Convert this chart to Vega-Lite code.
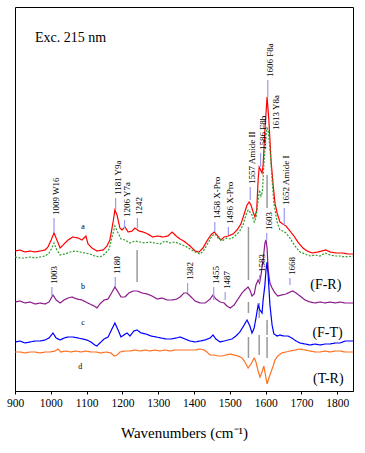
{
  "$schema": "https://vega.github.io/schema/vega-lite/v6.json",
  "width": 338,
  "height": 384,
  "autosize": "none",
  "padding": {"left": 15, "top": 7, "right": 12, "bottom": 62},
  "config": {
    "view": {"stroke": "#000", "strokeWidth": 1},
    "font": "Liberation Serif",
    "axis": {"labelFont": "Liberation Serif", "titleFont": "Liberation Serif"},
    "text": {"font": "Liberation Serif"}
  },
  "datasets": {
    "spec": [
      {"s":"a1","w":900,"i":140},{"s":"a1","w":914,"i":141},{"s":"a1","w":928,"i":139},{"s":"a1","w":942,"i":140},{"s":"a1","w":956,"i":139},{"s":"a1","w":970,"i":140},{"s":"a1","w":984,"i":141},{"s":"a1","w":992,"i":144},{"s":"a1","w":1001,"i":151},{"s":"a1","w":1009,"i":158},{"s":"a1","w":1017,"i":151},{"s":"a1","w":1026,"i":143},{"s":"a1","w":1037,"i":147},{"s":"a1","w":1048,"i":151},{"s":"a1","w":1062,"i":154},{"s":"a1","w":1076,"i":153},{"s":"a1","w":1087,"i":151},{"s":"a1","w":1098,"i":155},{"s":"a1","w":1104,"i":147},{"s":"a1","w":1115,"i":143},{"s":"a1","w":1129,"i":140},{"s":"a1","w":1146,"i":141},{"s":"a1","w":1157,"i":145},{"s":"a1","w":1165,"i":151},{"s":"a1","w":1174,"i":169},{"s":"a1","w":1179,"i":181},{"s":"a1","w":1185,"i":176},{"s":"a1","w":1193,"i":163},{"s":"a1","w":1199,"i":161},{"s":"a1","w":1207,"i":164},{"s":"a1","w":1216,"i":159},{"s":"a1","w":1227,"i":160},{"s":"a1","w":1235,"i":163},{"s":"a1","w":1246,"i":160},{"s":"a1","w":1258,"i":159},{"s":"a1","w":1271,"i":157},{"s":"a1","w":1285,"i":154},{"s":"a1","w":1299,"i":155},{"s":"a1","w":1313,"i":154},{"s":"a1","w":1327,"i":155},{"s":"a1","w":1339,"i":159},{"s":"a1","w":1350,"i":155},{"s":"a1","w":1361,"i":152},{"s":"a1","w":1375,"i":149},{"s":"a1","w":1389,"i":145},{"s":"a1","w":1403,"i":140},{"s":"a1","w":1414,"i":139},{"s":"a1","w":1425,"i":143},{"s":"a1","w":1436,"i":150},{"s":"a1","w":1447,"i":156},{"s":"a1","w":1456,"i":159},{"s":"a1","w":1464,"i":156},{"s":"a1","w":1475,"i":151},{"s":"a1","w":1484,"i":154},{"s":"a1","w":1495,"i":155},{"s":"a1","w":1509,"i":157},{"s":"a1","w":1520,"i":161},{"s":"a1","w":1531,"i":167},{"s":"a1","w":1540,"i":177},{"s":"a1","w":1548,"i":186},{"s":"a1","w":1554,"i":189},{"s":"a1","w":1559,"i":186},{"s":"a1","w":1565,"i":179},{"s":"a1","w":1570,"i":174},{"s":"a1","w":1575,"i":181},{"s":"a1","w":1579,"i":211},{"s":"a1","w":1582,"i":224},{"s":"a1","w":1586,"i":221},{"s":"a1","w":1590,"i":218},{"s":"a1","w":1593,"i":226},{"s":"a1","w":1598,"i":261},{"s":"a1","w":1604,"i":294},{"s":"a1","w":1609,"i":271},{"s":"a1","w":1615,"i":231},{"s":"a1","w":1621,"i":206},{"s":"a1","w":1626,"i":188},{"s":"a1","w":1632,"i":178},{"s":"a1","w":1640,"i":169},{"s":"a1","w":1648,"i":167},{"s":"a1","w":1657,"i":165},{"s":"a1","w":1668,"i":160},{"s":"a1","w":1679,"i":155},{"s":"a1","w":1690,"i":149},{"s":"a1","w":1704,"i":143},{"s":"a1","w":1716,"i":140},{"s":"a1","w":1730,"i":138},{"s":"a1","w":1746,"i":139},{"s":"a1","w":1757,"i":140},{"s":"a1","w":1768,"i":141},{"s":"a1","w":1780,"i":139},{"s":"a1","w":1797,"i":138},{"s":"a1","w":1813,"i":138},{"s":"a1","w":1830,"i":137},{"s":"a1","w":1844,"i":137},
      {"s":"a2","w":900,"i":134},{"s":"a2","w":914,"i":133},{"s":"a2","w":928,"i":133},{"s":"a2","w":942,"i":134},{"s":"a2","w":956,"i":133},{"s":"a2","w":970,"i":134},{"s":"a2","w":984,"i":135},{"s":"a2","w":995,"i":138},{"s":"a2","w":1003,"i":143},{"s":"a2","w":1009,"i":148},{"s":"a2","w":1017,"i":141},{"s":"a2","w":1026,"i":136},{"s":"a2","w":1040,"i":137},{"s":"a2","w":1054,"i":139},{"s":"a2","w":1068,"i":140},{"s":"a2","w":1082,"i":139},{"s":"a2","w":1096,"i":138},{"s":"a2","w":1109,"i":137},{"s":"a2","w":1123,"i":135},{"s":"a2","w":1137,"i":134},{"s":"a2","w":1151,"i":137},{"s":"a2","w":1163,"i":142},{"s":"a2","w":1171,"i":154},{"s":"a2","w":1179,"i":165},{"s":"a2","w":1188,"i":158},{"s":"a2","w":1196,"i":152},{"s":"a2","w":1207,"i":151},{"s":"a2","w":1221,"i":148},{"s":"a2","w":1235,"i":150},{"s":"a2","w":1249,"i":149},{"s":"a2","w":1263,"i":148},{"s":"a2","w":1277,"i":149},{"s":"a2","w":1291,"i":148},{"s":"a2","w":1305,"i":147},{"s":"a2","w":1319,"i":150},{"s":"a2","w":1333,"i":148},{"s":"a2","w":1347,"i":149},{"s":"a2","w":1361,"i":147},{"s":"a2","w":1375,"i":145},{"s":"a2","w":1389,"i":142},{"s":"a2","w":1403,"i":139},{"s":"a2","w":1417,"i":137},{"s":"a2","w":1428,"i":141},{"s":"a2","w":1439,"i":148},{"s":"a2","w":1450,"i":155},{"s":"a2","w":1459,"i":157},{"s":"a2","w":1467,"i":153},{"s":"a2","w":1478,"i":150},{"s":"a2","w":1492,"i":153},{"s":"a2","w":1503,"i":152},{"s":"a2","w":1514,"i":155},{"s":"a2","w":1526,"i":159},{"s":"a2","w":1537,"i":166},{"s":"a2","w":1545,"i":176},{"s":"a2","w":1551,"i":181},{"s":"a2","w":1556,"i":179},{"s":"a2","w":1562,"i":176},{"s":"a2","w":1568,"i":169},{"s":"a2","w":1573,"i":173},{"s":"a2","w":1579,"i":191},{"s":"a2","w":1583,"i":201},{"s":"a2","w":1587,"i":195},{"s":"a2","w":1591,"i":199},{"s":"a2","w":1595,"i":226},{"s":"a2","w":1601,"i":256},{"s":"a2","w":1604,"i":263},{"s":"a2","w":1607,"i":261},{"s":"a2","w":1612,"i":243},{"s":"a2","w":1618,"i":211},{"s":"a2","w":1623,"i":188},{"s":"a2","w":1632,"i":169},{"s":"a2","w":1640,"i":161},{"s":"a2","w":1648,"i":160},{"s":"a2","w":1657,"i":158},{"s":"a2","w":1668,"i":153},{"s":"a2","w":1682,"i":145},{"s":"a2","w":1696,"i":139},{"s":"a2","w":1710,"i":137},{"s":"a2","w":1724,"i":135},{"s":"a2","w":1738,"i":136},{"s":"a2","w":1752,"i":135},{"s":"a2","w":1766,"i":138},{"s":"a2","w":1780,"i":136},{"s":"a2","w":1794,"i":135},{"s":"a2","w":1808,"i":135},{"s":"a2","w":1822,"i":134},{"s":"a2","w":1844,"i":135},
      {"s":"b","w":900,"i":89},{"s":"b","w":914,"i":90},{"s":"b","w":928,"i":88},{"s":"b","w":942,"i":89},{"s":"b","w":956,"i":87},{"s":"b","w":970,"i":88},{"s":"b","w":984,"i":87},{"s":"b","w":995,"i":89},{"s":"b","w":1006,"i":96},{"s":"b","w":1015,"i":91},{"s":"b","w":1026,"i":88},{"s":"b","w":1037,"i":91},{"s":"b","w":1048,"i":93},{"s":"b","w":1059,"i":94},{"s":"b","w":1073,"i":92},{"s":"b","w":1087,"i":91},{"s":"b","w":1098,"i":89},{"s":"b","w":1109,"i":87},{"s":"b","w":1121,"i":85},{"s":"b","w":1129,"i":83},{"s":"b","w":1137,"i":87},{"s":"b","w":1149,"i":91},{"s":"b","w":1160,"i":92},{"s":"b","w":1168,"i":97},{"s":"b","w":1179,"i":104},{"s":"b","w":1188,"i":99},{"s":"b","w":1196,"i":94},{"s":"b","w":1207,"i":94},{"s":"b","w":1218,"i":98},{"s":"b","w":1230,"i":100},{"s":"b","w":1241,"i":100},{"s":"b","w":1255,"i":98},{"s":"b","w":1269,"i":97},{"s":"b","w":1283,"i":95},{"s":"b","w":1297,"i":92},{"s":"b","w":1311,"i":93},{"s":"b","w":1325,"i":91},{"s":"b","w":1339,"i":91},{"s":"b","w":1352,"i":92},{"s":"b","w":1361,"i":94},{"s":"b","w":1372,"i":98},{"s":"b","w":1380,"i":98},{"s":"b","w":1389,"i":95},{"s":"b","w":1403,"i":90},{"s":"b","w":1417,"i":88},{"s":"b","w":1431,"i":88},{"s":"b","w":1445,"i":92},{"s":"b","w":1453,"i":96},{"s":"b","w":1461,"i":92},{"s":"b","w":1473,"i":89},{"s":"b","w":1484,"i":88},{"s":"b","w":1492,"i":85},{"s":"b","w":1501,"i":83},{"s":"b","w":1512,"i":86},{"s":"b","w":1523,"i":92},{"s":"b","w":1534,"i":98},{"s":"b","w":1542,"i":101},{"s":"b","w":1551,"i":104},{"s":"b","w":1556,"i":101},{"s":"b","w":1562,"i":95},{"s":"b","w":1568,"i":97},{"s":"b","w":1573,"i":106},{"s":"b","w":1579,"i":111},{"s":"b","w":1583,"i":108},{"s":"b","w":1587,"i":116},{"s":"b","w":1593,"i":131},{"s":"b","w":1598,"i":148},{"s":"b","w":1601,"i":151},{"s":"b","w":1604,"i":143},{"s":"b","w":1607,"i":121},{"s":"b","w":1612,"i":108},{"s":"b","w":1618,"i":103},{"s":"b","w":1626,"i":98},{"s":"b","w":1634,"i":95},{"s":"b","w":1645,"i":96},{"s":"b","w":1657,"i":97},{"s":"b","w":1668,"i":99},{"s":"b","w":1676,"i":100},{"s":"b","w":1685,"i":98},{"s":"b","w":1696,"i":95},{"s":"b","w":1710,"i":91},{"s":"b","w":1724,"i":89},{"s":"b","w":1738,"i":88},{"s":"b","w":1752,"i":89},{"s":"b","w":1766,"i":88},{"s":"b","w":1780,"i":89},{"s":"b","w":1794,"i":88},{"s":"b","w":1808,"i":89},{"s":"b","w":1822,"i":88},{"s":"b","w":1844,"i":88},
      {"s":"c","w":900,"i":49},{"s":"c","w":914,"i":50},{"s":"c","w":928,"i":48},{"s":"c","w":942,"i":49},{"s":"c","w":956,"i":50},{"s":"c","w":970,"i":50},{"s":"c","w":984,"i":51},{"s":"c","w":995,"i":53},{"s":"c","w":1006,"i":58},{"s":"c","w":1015,"i":53},{"s":"c","w":1026,"i":51},{"s":"c","w":1037,"i":53},{"s":"c","w":1048,"i":54},{"s":"c","w":1062,"i":54},{"s":"c","w":1076,"i":53},{"s":"c","w":1090,"i":52},{"s":"c","w":1101,"i":51},{"s":"c","w":1112,"i":49},{"s":"c","w":1123,"i":46},{"s":"c","w":1129,"i":45},{"s":"c","w":1137,"i":48},{"s":"c","w":1149,"i":52},{"s":"c","w":1160,"i":54},{"s":"c","w":1168,"i":60},{"s":"c","w":1179,"i":68},{"s":"c","w":1188,"i":61},{"s":"c","w":1196,"i":54},{"s":"c","w":1204,"i":56},{"s":"c","w":1213,"i":58},{"s":"c","w":1221,"i":55},{"s":"c","w":1232,"i":60},{"s":"c","w":1241,"i":61},{"s":"c","w":1252,"i":58},{"s":"c","w":1266,"i":57},{"s":"c","w":1280,"i":55},{"s":"c","w":1294,"i":54},{"s":"c","w":1308,"i":53},{"s":"c","w":1322,"i":52},{"s":"c","w":1336,"i":52},{"s":"c","w":1350,"i":53},{"s":"c","w":1361,"i":54},{"s":"c","w":1375,"i":52},{"s":"c","w":1389,"i":50},{"s":"c","w":1403,"i":49},{"s":"c","w":1417,"i":50},{"s":"c","w":1431,"i":51},{"s":"c","w":1445,"i":53},{"s":"c","w":1453,"i":56},{"s":"c","w":1461,"i":52},{"s":"c","w":1473,"i":49},{"s":"c","w":1484,"i":50},{"s":"c","w":1495,"i":51},{"s":"c","w":1506,"i":52},{"s":"c","w":1517,"i":55},{"s":"c","w":1528,"i":59},{"s":"c","w":1540,"i":66},{"s":"c","w":1548,"i":71},{"s":"c","w":1556,"i":65},{"s":"c","w":1562,"i":58},{"s":"c","w":1568,"i":63},{"s":"c","w":1573,"i":73},{"s":"c","w":1579,"i":86},{"s":"c","w":1584,"i":81},{"s":"c","w":1590,"i":78},{"s":"c","w":1593,"i":91},{"s":"c","w":1598,"i":106},{"s":"c","w":1601,"i":121},{"s":"c","w":1604,"i":129},{"s":"c","w":1607,"i":116},{"s":"c","w":1612,"i":86},{"s":"c","w":1618,"i":66},{"s":"c","w":1623,"i":57},{"s":"c","w":1632,"i":55},{"s":"c","w":1640,"i":56},{"s":"c","w":1651,"i":55},{"s":"c","w":1662,"i":55},{"s":"c","w":1673,"i":53},{"s":"c","w":1685,"i":50},{"s":"c","w":1696,"i":48},{"s":"c","w":1710,"i":47},{"s":"c","w":1724,"i":46},{"s":"c","w":1738,"i":47},{"s":"c","w":1752,"i":46},{"s":"c","w":1766,"i":47},{"s":"c","w":1780,"i":47},{"s":"c","w":1794,"i":48},{"s":"c","w":1808,"i":48},{"s":"c","w":1822,"i":50},{"s":"c","w":1844,"i":50},
      {"s":"d","w":900,"i":39},{"s":"d","w":914,"i":39},{"s":"d","w":928,"i":38},{"s":"d","w":942,"i":39},{"s":"d","w":956,"i":39},{"s":"d","w":970,"i":38},{"s":"d","w":984,"i":39},{"s":"d","w":998,"i":39},{"s":"d","w":1012,"i":40},{"s":"d","w":1020,"i":42},{"s":"d","w":1028,"i":39},{"s":"d","w":1042,"i":40},{"s":"d","w":1056,"i":39},{"s":"d","w":1070,"i":40},{"s":"d","w":1084,"i":39},{"s":"d","w":1098,"i":40},{"s":"d","w":1112,"i":39},{"s":"d","w":1126,"i":39},{"s":"d","w":1140,"i":38},{"s":"d","w":1154,"i":39},{"s":"d","w":1168,"i":38},{"s":"d","w":1177,"i":35},{"s":"d","w":1185,"i":36},{"s":"d","w":1193,"i":39},{"s":"d","w":1207,"i":40},{"s":"d","w":1221,"i":40},{"s":"d","w":1235,"i":41},{"s":"d","w":1249,"i":40},{"s":"d","w":1263,"i":41},{"s":"d","w":1277,"i":40},{"s":"d","w":1291,"i":41},{"s":"d","w":1305,"i":40},{"s":"d","w":1319,"i":41},{"s":"d","w":1333,"i":40},{"s":"d","w":1347,"i":41},{"s":"d","w":1361,"i":41},{"s":"d","w":1375,"i":41},{"s":"d","w":1389,"i":41},{"s":"d","w":1403,"i":41},{"s":"d","w":1417,"i":42},{"s":"d","w":1428,"i":41},{"s":"d","w":1436,"i":39},{"s":"d","w":1445,"i":36},{"s":"d","w":1456,"i":36},{"s":"d","w":1467,"i":35},{"s":"d","w":1478,"i":35},{"s":"d","w":1489,"i":36},{"s":"d","w":1501,"i":37},{"s":"d","w":1512,"i":36},{"s":"d","w":1523,"i":35},{"s":"d","w":1534,"i":33},{"s":"d","w":1542,"i":29},{"s":"d","w":1551,"i":23},{"s":"d","w":1559,"i":27},{"s":"d","w":1568,"i":33},{"s":"d","w":1573,"i":29},{"s":"d","w":1579,"i":20},{"s":"d","w":1584,"i":14},{"s":"d","w":1590,"i":19},{"s":"d","w":1595,"i":25},{"s":"d","w":1601,"i":13},{"s":"d","w":1604,"i":7},{"s":"d","w":1609,"i":13},{"s":"d","w":1615,"i":19},{"s":"d","w":1621,"i":25},{"s":"d","w":1626,"i":31},{"s":"d","w":1634,"i":35},{"s":"d","w":1645,"i":38},{"s":"d","w":1657,"i":39},{"s":"d","w":1668,"i":40},{"s":"d","w":1682,"i":41},{"s":"d","w":1696,"i":42},{"s":"d","w":1710,"i":41},{"s":"d","w":1724,"i":40},{"s":"d","w":1738,"i":39},{"s":"d","w":1752,"i":39},{"s":"d","w":1766,"i":40},{"s":"d","w":1780,"i":39},{"s":"d","w":1794,"i":40},{"s":"d","w":1808,"i":40},{"s":"d","w":1822,"i":39},{"s":"d","w":1844,"i":39}
    ],
    "peaks": [
      {"w":1009,"t":"1009  W16","y0":158,"y1":173},
      {"w":1181,"t":"1181  Y9a","y0":181,"y1":193},
      {"w":1206,"t":"1206  Y7a","y0":163,"y1":171},
      {"w":1242,"t":"1242","y0":163,"y1":173},
      {"w":1458,"t":"1458  X-Pro","y0":159,"y1":169},
      {"w":1496,"t":"1496  X-Pro","y0":156,"y1":164},
      {"w":1557,"t":"1557  Amide II","y0":191,"y1":204},
      {"w":1586,"t":"1586  F8b","y0":224,"y1":238},
      {"w":1606,"t":"1606  F8a","y0":294,"y1":311},
      {"w":1652,"t":"1652  Amide I","y0":166,"y1":183},
      {"w":1003,"t":"1003","y0":94,"y1":104},
      {"w":1180,"t":"1180","y0":104,"y1":114},
      {"w":1382,"t":"1382","y0":98,"y1":108},
      {"w":1455,"t":"1455","y0":91,"y1":104},
      {"w":1487,"t":"1487","y0":91,"y1":99},
      {"w":1583,"t":"1583","y0":109,"y1":116},
      {"w":1603,"t":"1603","y0":151,"y1":158},
      {"w":1668,"t":"1668","y0":106,"y1":113}
    ],
    "links": [
      {"w":1241,"y0":109,"y1":141},
      {"w":1552,"y0":111,"y1":164},
      {"w":1552,"y0":78,"y1":89},
      {"w":1552,"y0":33,"y1":54},
      {"w":1582,"y0":73,"y1":88},
      {"w":1582,"y0":36,"y1":56},
      {"w":1604,"y0":183,"y1":216},
      {"w":1604,"y0":56,"y1":71},
      {"w":1604,"y0":33,"y1":54}
    ],
    "notes": [
      {"k":"rot","t":"1613  Y8a","w":1630,"i":261},
      {"k":"small","t":"a","w":1090,"i":164},
      {"k":"small","t":"b","w":1090,"i":104},
      {"k":"small","t":"c","w":1090,"i":68},
      {"k":"small","t":"d","w":1082,"i":24},
      {"k":"big","t":"(F-R)","w":1768,"i":106},
      {"k":"big","t":"(F-T)","w":1773,"i":58},
      {"k":"big","t":"(T-R)","w":1775,"i":12},
      {"k":"title","t":"Exc. 215 nm","w":956,"i":353}
    ]
  },
  "encoding": {
    "x": {"field":"w","type":"quantitative","scale":{"domain":[900,1844],"nice":false,"zero":false},
      "axis":{"values":[900,1000,1100,1200,1300,1400,1500,1600,1700,1800],"format":"d","grid":false,"domainColor":"#000","tickColor":"#000","tickSize":3,"labelFont":"Liberation Serif","labelFontSize":11.5,"labelColor":"#000","labelPadding":3,"labelFlush":false,"title":"Wavenumbers (cm⁻¹)","titleFont":"Liberation Serif","titleFontSize":15,"titleFontWeight":"normal","titleColor":"#000","titlePadding":17}}
  },
  "layer": [
    {
      "data": {"name":"links"},
      "mark": {"type":"rule","color":"#999999","strokeWidth":1.5},
      "encoding": {
        "y": {"field":"y0","type":"quantitative","scale":{"domain":[0,384],"nice":false,"zero":false},"axis":null},
        "y2": {"field":"y1"}
      }
    },
    {
      "data": {"name":"spec"},
      "mark": {"type":"line","strokeWidth":1.2,"interpolate":"linear"},
      "encoding": {
        "y": {"field":"i","type":"quantitative","scale":{"domain":[0,384],"nice":false,"zero":false},"axis":null},
        "color": {"field":"s","type":"nominal","legend":null,"scale":{"domain":["a2","a1","b","c","d"],"range":["#2e9e2e","#ff0000","#8b1a8b","#0000ff","#ff7020"]}},
        "strokeDash": {"field":"s","type":"nominal","legend":null,"scale":{"domain":["a2","a1","b","c","d"],"range":[[2,1.5],[1,0],[1,0],[1,0],[1,0]]}},
        "order": {"field":"w","type":"quantitative"}
      }
    },
    {
      "data": {"name":"peaks"},
      "mark": {"type":"rule","color":"#9a9af0","strokeWidth":1.2},
      "encoding": {
        "y": {"field":"y0","type":"quantitative","scale":{"domain":[0,384],"nice":false,"zero":false},"axis":null},
        "y2": {"field":"y1"}
      }
    },
    {
      "data": {"name":"peaks"},
      "mark": {"type":"text","angle":270,"align":"left","baseline":"middle","dx":3,"dy":2,"font":"Liberation Serif","fontSize":9,"color":"#000"},
      "encoding": {
        "y": {"field":"y1","type":"quantitative","scale":{"domain":[0,384],"nice":false,"zero":false},"axis":null},
        "text": {"field":"t"}
      }
    },
    {
      "data": {"name":"notes"},
      "transform": [{"filter":"datum.k == 'rot'"}],
      "mark": {"type":"text","angle":270,"align":"left","baseline":"middle","font":"Liberation Serif","fontSize":9,"color":"#000"},
      "encoding": {
        "y": {"field":"i","type":"quantitative","scale":{"domain":[0,384],"nice":false,"zero":false},"axis":null},
        "text": {"field":"t"}
      }
    },
    {
      "data": {"name":"notes"},
      "transform": [{"filter":"datum.k == 'small'"}],
      "mark": {"type":"text","align":"center","baseline":"middle","font":"Liberation Serif","fontSize":8,"color":"#000"},
      "encoding": {
        "y": {"field":"i","type":"quantitative","scale":{"domain":[0,384],"nice":false,"zero":false},"axis":null},
        "text": {"field":"t"}
      }
    },
    {
      "data": {"name":"notes"},
      "transform": [{"filter":"datum.k == 'big'"}],
      "mark": {"type":"text","align":"center","baseline":"middle","font":"Liberation Serif","fontSize":14,"color":"#000"},
      "encoding": {
        "y": {"field":"i","type":"quantitative","scale":{"domain":[0,384],"nice":false,"zero":false},"axis":null},
        "text": {"field":"t"}
      }
    },
    {
      "data": {"name":"notes"},
      "transform": [{"filter":"datum.k == 'title'"}],
      "mark": {"type":"text","align":"left","baseline":"middle","font":"Liberation Serif","fontSize":14,"color":"#000"},
      "encoding": {
        "y": {"field":"i","type":"quantitative","scale":{"domain":[0,384],"nice":false,"zero":false},"axis":null},
        "text": {"field":"t"}
      }
    }
  ]
}
